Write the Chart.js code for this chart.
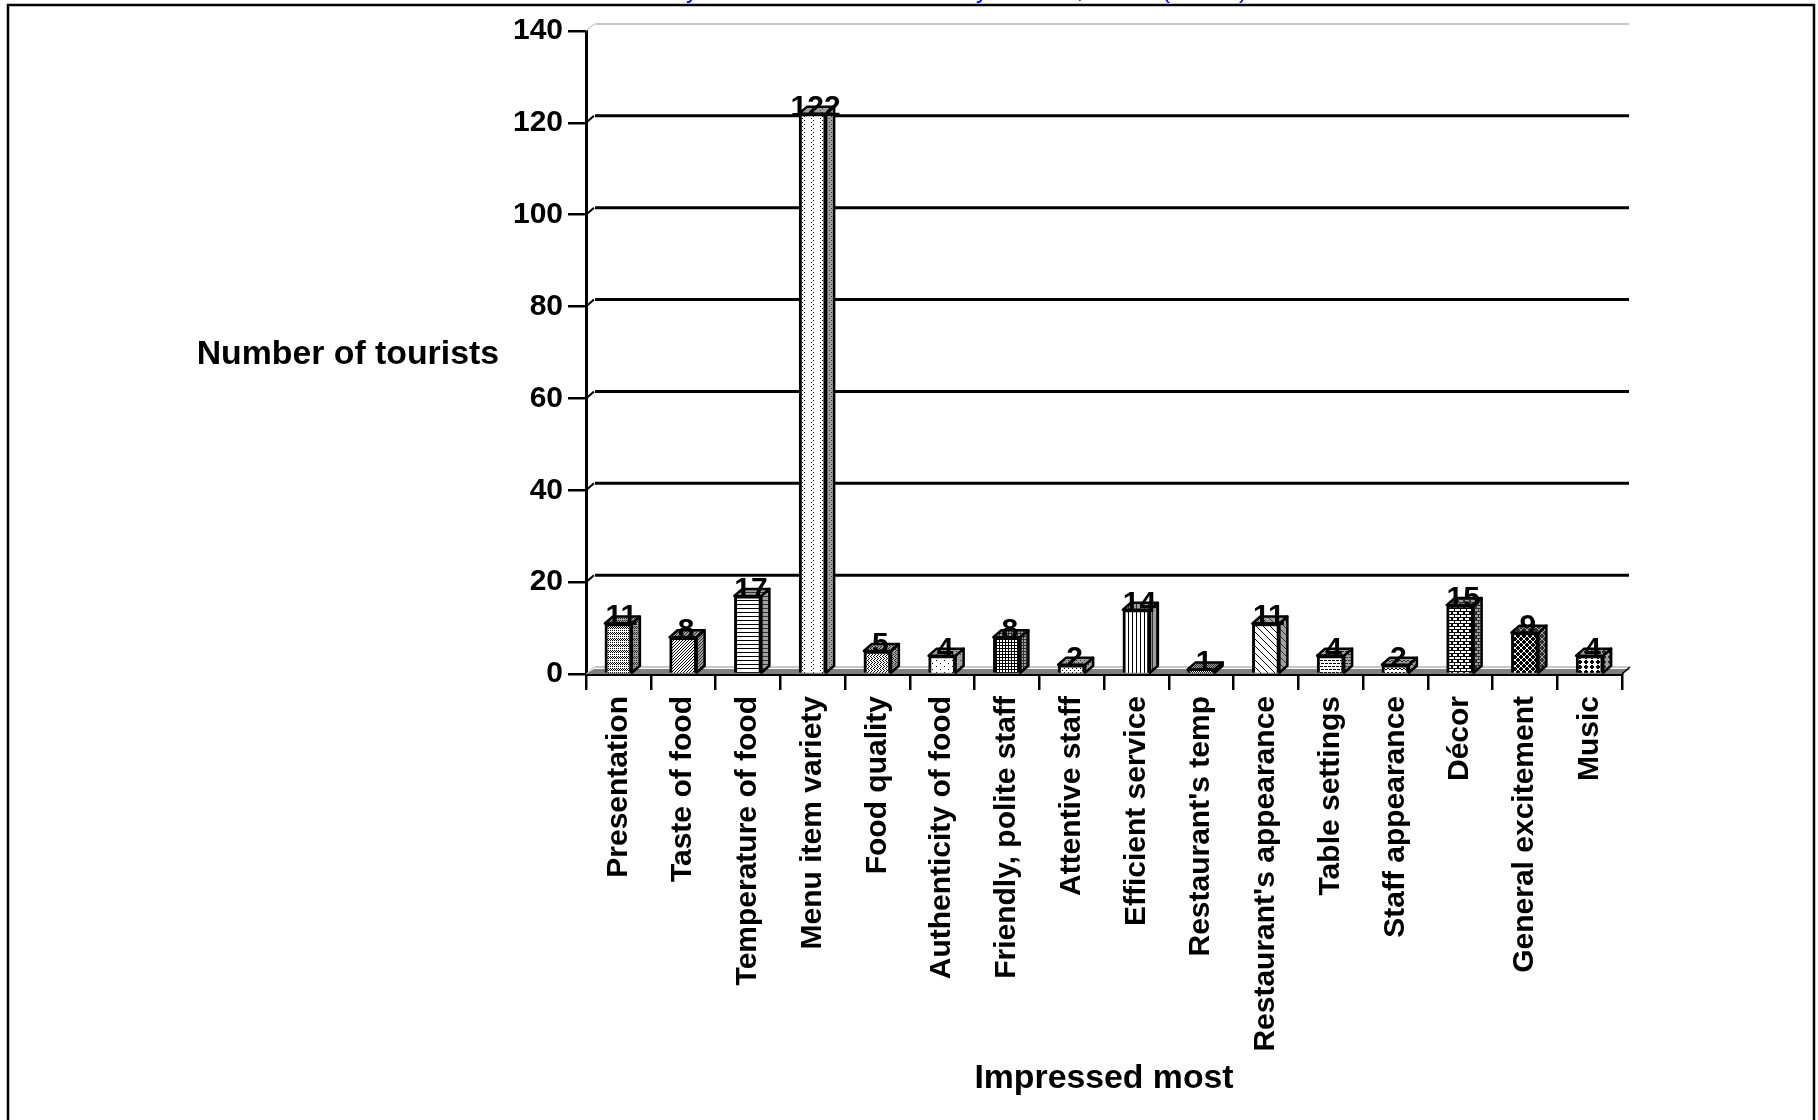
<!DOCTYPE html>
<html>
<head>
<meta charset="utf-8">
<style>
  html, body { margin: 0; padding: 0; background: #fff; }
  #wrap { width: 1818px; height: 1120px; }
</style>
<script src="https://cdn.jsdelivr.net/npm/chart.js@4/dist/chart.umd.min.js"></script>
</head>
<body>
<div id="wrap"><canvas id="chart" width="1818" height="1120"></canvas></div>
<script>
const categories = ['Presentation', 'Taste of food', 'Temperature of food', 'Menu item variety', 'Food quality',
  'Authenticity of food', 'Friendly, polite staff', 'Attentive staff', 'Efficient service', "Restaurant's temp",
  "Restaurant's appearance", 'Table settings', 'Staff appearance', 'Décor', 'General excitement', 'Music'];
const tourists = [11, 8, 17, 122, 5, 4, 8, 2, 14, 1, 11, 4, 2, 15, 9, 4];
const yTicks = [0, 20, 40, 60, 80, 100, 120, 140];
const yTitle = 'Number of tourists';
const xTitle = 'Impressed most';

const FONT = '"Liberation Sans", Arial, sans-serif';
const DEPTH_X = 8;
const DEPTH_Y = 7;

// bitmap fill per bar, # = black
const fillBitmaps = [
  ['#.#.#.', '......', '#.#.#.', '.#.#.#', '#.#.#.', '......'],
  ['..#', '.#.', '#..'],
  ['####', '....', '....', '....'],
  ['...#.....', '.........', '.#.......', '.........'],
  ['#..#..', '.#..#.', '..#..#', '.#..#.'],
  ['#.......', '........', '........', '....#...', '........', '........'],
  ['###', '#..', '#..'],
  ['#...', '....', '..#.', '....'],
  ['#...', '#...', '#...', '#...'],
  ['#.#.', '.#.#', '#.#.', '.#.#'],
  ['#......', '.#.....', '..#....', '...#...', '....#..', '.....#.', '......#'],
  ['###.', '....', '....', '.###', '....', '....'],
  ['#..#', '.##.', '....', '....'],
  ['#....#', '#....#', '######', '..#...', '..#...', '######'],
  ['##..##', '#.##.#', '.####.', '.####.', '#.##.#', '##..##'],
  ['.##...', '####..', '####..', '.##...', '......']
];

function makePattern(rows, grey) {
  const c = document.createElement('canvas');
  c.width = rows[0].length;
  c.height = rows.length;
  const g = c.getContext('2d');
  g.fillStyle = grey ? '#a0a0a0' : '#ffffff';
  g.fillRect(0, 0, c.width, c.height);
  g.fillStyle = grey ? '#303030' : '#000000';
  rows.forEach((row, y) => {
    [...row].forEach((ch, x) => {
      if (ch === '#') g.fillRect(x, y, 1, 1);
    });
  });
  return g.createPattern(c, 'repeat');
}

const frontFills = fillBitmaps.map(b => makePattern(b, false));
const sideFills = fillBitmaps.map(b => makePattern(b, true));

// back wall, floor, page frame and the horizontal y title
const backdrop = {
  id: 'backdrop',
  beforeDatasetsDraw(chart) {
    const ctx = chart.ctx;
    const { left, right } = chart.chartArea;
    const yScale = chart.scales.y;
    const y0 = yScale.getPixelForValue(0);

    ctx.save();
    // floor
    ctx.fillStyle = '#808080';
    ctx.beginPath();
    ctx.moveTo(left, y0);
    ctx.lineTo(left + DEPTH_X, y0 - DEPTH_Y + 2);
    ctx.lineTo(right + DEPTH_X, y0 - DEPTH_Y + 2);
    ctx.lineTo(right, y0);
    ctx.closePath();
    ctx.fill();

    yTicks.forEach(v => {
      const y = yScale.getPixelForValue(v);
      const edge = v === 0 || v === 140;
      ctx.strokeStyle = edge ? '#b4b4b4' : '#000000';
      ctx.lineWidth = edge ? 1.5 : 3;
      ctx.beginPath();
      ctx.moveTo(left + DEPTH_X + 1, y - DEPTH_Y);
      ctx.lineTo(right + DEPTH_X - 1, y - DEPTH_Y);
      ctx.stroke();
      // little step from the axis to the wall
      ctx.lineWidth = edge ? 1 : 2;
      ctx.beginPath();
      ctx.moveTo(left, y);
      ctx.lineTo(left + DEPTH_X, y - DEPTH_Y);
      ctx.stroke();
    });
    ctx.strokeStyle = '#000000';
    ctx.lineWidth = 1.5;
    ctx.beginPath();
    ctx.moveTo(right, y0);
    ctx.lineTo(right + DEPTH_X, y0 - DEPTH_Y);
    ctx.stroke();
    ctx.restore();
  },
  afterDatasetsDraw(chart) {
    const ctx = chart.ctx;
    const bars = chart.getDatasetMeta(0).data;
    ctx.save();
    bars.forEach((bar, i) => {
      const half = bar.width / 2;
      const x1 = bar.x - half;
      const x2 = bar.x + half;
      const top = bar.y;
      const base = bar.base;
      ctx.lineWidth = 2.5;
      ctx.strokeStyle = '#000000';
      ctx.lineJoin = 'round';
      ctx.fillStyle = sideFills[i];
      // side
      ctx.beginPath();
      ctx.moveTo(x2, top);
      ctx.lineTo(x2 + DEPTH_X, top - DEPTH_Y);
      ctx.lineTo(x2 + DEPTH_X, base - DEPTH_Y);
      ctx.lineTo(x2, base);
      ctx.closePath();
      ctx.fill();
      ctx.stroke();
      // top
      ctx.beginPath();
      ctx.moveTo(x1, top);
      ctx.lineTo(x1 + DEPTH_X, top - DEPTH_Y);
      ctx.lineTo(x2 + DEPTH_X, top - DEPTH_Y);
      ctx.lineTo(x2, top);
      ctx.closePath();
      ctx.fill();
      ctx.stroke();
    });
    // value labels
    ctx.fillStyle = '#000000';
    ctx.font = 'bold 30px ' + FONT;
    ctx.textAlign = 'center';
    ctx.textBaseline = 'alphabetic';
    bars.forEach((bar, i) => {
      ctx.fillText(String(tourists[i]), bar.x + 3, bar.y + 2);
    });
    ctx.restore();
  },
  afterDraw(chart) {
    const ctx = chart.ctx;
    ctx.save();
    // clipped blue heading above the frame
    ctx.beginPath();
    ctx.rect(0, 0, 1818, 4);
    ctx.clip();
    ctx.fillStyle = '#0000ff';
    ctx.font = '24px ' + FONT;
    ctx.textAlign = 'center';
    ctx.textBaseline = 'alphabetic';
    [['y', 692], ['y', 982], [',', 1080], ['(', 1166], [')', 1243]].forEach(([s, x]) => ctx.fillText(s, x, -2));
    ctx.restore();

    ctx.save();
    ctx.strokeStyle = '#000000';
    ctx.lineWidth = 2.5;
    ctx.beginPath();
    ctx.moveTo(8, 1120);
    ctx.lineTo(8, 5);
    ctx.lineTo(1814, 5);
    ctx.lineTo(1814, 1120);
    ctx.stroke();

    ctx.fillStyle = '#000000';
    ctx.font = 'bold 33.8px ' + FONT;
    ctx.textAlign = 'right';
    ctx.textBaseline = 'middle';
    ctx.fillText(yTitle, 499, 355);
    ctx.restore();
  }
};

new Chart(document.getElementById('chart'), {
  type: 'bar',
  data: {
    labels: categories,
    datasets: [{
      data: tourists,
      backgroundColor: frontFills,
      borderColor: '#000000',
      borderWidth: 3,
      barThickness: 27,
    }]
  },
  options: {
    responsive: false,
    animation: false,
    layout: { padding: { top: 31, right: 196, left: 0, bottom: 0 } },
    scales: {
      x: {
        ticks: {
          color: '#000000',
          autoSkip: false,
          minRotation: 90,
          maxRotation: 90,
          padding: 6,
          font: { family: FONT, size: 30, weight: 'bold' },
        },
        grid: { drawOnChartArea: false, color: '#000000', lineWidth: 2.5, tickLength: 16 },
        border: { color: '#000000', width: 3 },
        title: {
          display: true,
          text: xTitle,
          color: '#000000',
          font: { family: FONT, size: 33.8, weight: 'bold' },
          padding: { top: 0, bottom: 21 },
        },
        afterFit(s) { s.height = 446; },
      },
      y: {
        min: 0,
        max: 140,
        afterBuildTicks(s) { s.ticks = yTicks.map(value => ({ value })); },
        ticks: {
          color: '#000000',
          padding: 5,
          font: { family: FONT, size: 30, weight: 'bold' },
        },
        grid: { drawOnChartArea: false, color: '#000000', lineWidth: 2.5, tickLength: 18 },
        border: { color: '#000000', width: 3 },
        afterFit(s) { s.width = 586; },
      }
    },
    plugins: {
      legend: { display: false },
      tooltip: { enabled: false },
    }
  },
  plugins: [backdrop]
});
</script>
</body>
</html>
